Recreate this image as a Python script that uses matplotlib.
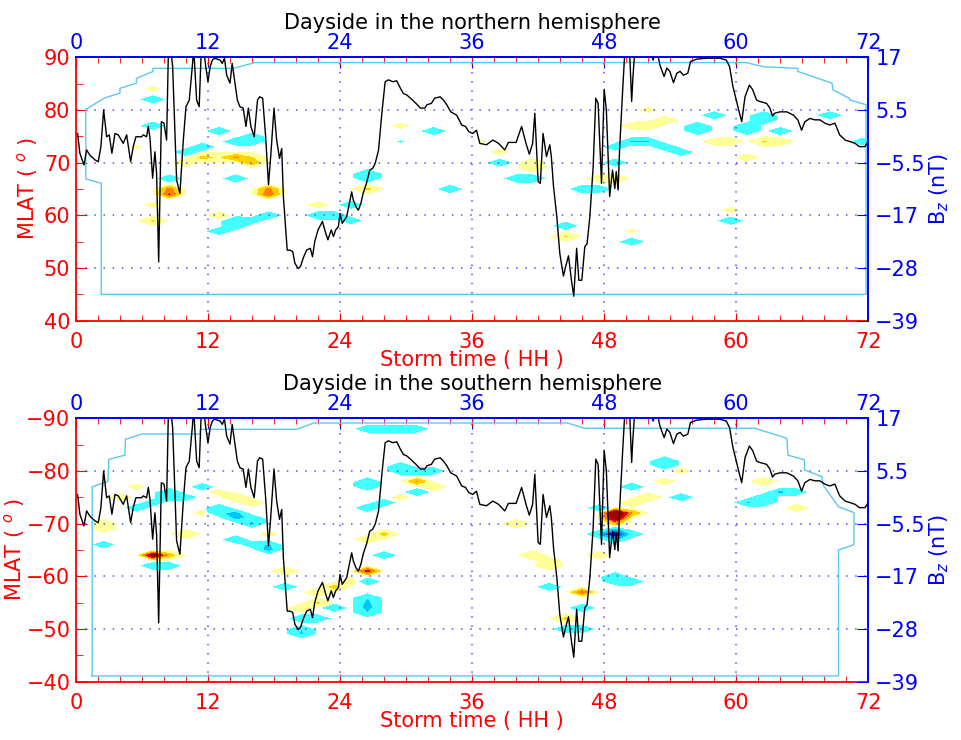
import numpy as np
import matplotlib.pyplot as plt

plt.rcParams['font.family'] = 'DejaVu Sans'
plt.rcParams['font.size'] = 15

RED = '#FF0000'
BLUE = '#0000FF'

# IMF Bz (nT) against storm time (h); values above 17 nT run off the top
bz_time = [0.15, 0.36, 0.73, 0.97, 1.27, 1.73, 2.03, 2.27, 2.52, 2.79,
           3.03, 3.27, 3.55, 3.85, 4.30, 4.61, 4.97, 5.21, 5.45, 5.97,
           6.12, 6.42, 6.58, 6.73, 6.97, 7.18, 7.33, 7.52, 7.76, 8.00,
           8.24, 8.39, 8.61, 8.79, 9.15, 9.45, 9.76, 10.0, 10.3, 10.6,
           10.7, 10.97, 11.2, 11.4, 11.6, 11.8, 12.0, 12.2, 12.4, 12.6,
           13.1, 13.3, 13.5, 13.7, 14.0, 14.2, 14.45, 14.67, 14.9, 15.2,
           15.45, 15.67, 15.9, 16.2, 16.5, 16.7, 16.97, 17.24, 17.5, 17.7,
           18.0, 18.24, 18.5, 18.7, 18.85, 19.2, 19.45, 19.7, 19.9, 20.2,
           20.4, 20.7, 20.97, 21.3, 21.5, 21.7, 22.0, 22.4, 22.7, 22.9,
           23.2, 23.4, 23.6, 23.85, 24.0, 24.2, 24.6, 24.85, 25.06, 25.2,
           25.45, 25.67, 25.9, 26.1, 26.4, 26.7, 26.97, 27.2, 27.5, 27.8,
           28.1, 28.4, 28.8, 29.15, 29.4, 29.75, 30.06, 30.4, 30.9, 31.3,
           31.7, 31.9, 32.3, 32.6, 33.1, 33.4, 33.7, 34.06, 34.6, 35.06,
           35.4, 35.7, 36.06, 36.4, 36.7, 37.3, 37.9, 38.4, 38.97, 39.3,
           40.0, 40.5, 40.9, 41.2, 41.5, 41.7, 42.0, 42.2, 42.45, 42.76,
           43.06, 43.2, 43.4, 43.7, 43.97, 44.3, 44.5, 44.76, 45.03, 45.24,
           45.5, 45.7, 45.97, 46.24, 46.45, 46.7, 47.0, 47.24, 47.45, 47.76,
           48.0, 48.2, 48.5, 48.76, 48.97, 49.1, 49.27, 49.4, 49.7, 49.9,
           50.3, 50.5, 50.6, 50.8, 51.1, 52.15, 52.45, 52.76, 53.06, 53.45,
           53.7, 53.97, 54.3, 54.6, 54.9, 55.2, 55.6, 55.85, 56.4, 57.3,
           57.9, 58.5, 59.1, 59.4, 59.7, 60.0, 60.3, 60.5, 60.8, 61.2,
           61.5, 61.85, 62.15, 62.76, 63.06, 63.3, 63.5, 63.97, 64.6, 65.2,
           65.6, 65.94, 66.24, 66.7, 67.15, 67.6, 68.06, 68.5, 68.97, 69.4,
           69.9, 70.3, 70.8, 71.2, 71.7, 72.0]
bz_nt = [0.8, -3.4, -5.9, -2.7, -3.8, -4.8, -5.2, -2.0, 5.8, 0.1,
         0.5, -3.4, 0.8, 0.5, -1.3, 0.5, -5.2, -2.0, 0.1, 0.1,
         0.5, 0.1, 2.3, -0.2, -8.7, -3.1, -7.7, -26.5, 3.3, 3.0,
         -0.6, 16.8, 19.0, 15.0, -9.1, -11.9, -0.6, 6.5, 7.9, 15.7,
         19.0, 7.9, 6.5, 19.0, 19.0, 15.0, 11.8, 15.0, 16.4, 16.8,
         16.4, 15.7, 16.8, 13.2, 11.5, 15.7, 11.5, 7.9, 6.5, 6.2,
         2.3, 6.2, 2.3, 0.1, 7.9, 8.6, 8.3, 0.1, -10.1, -4.1,
         6.2, -0.6, -4.5, -2.4, -12.6, -24.0, -24.0, -24.3, -26.8, -27.9,
         -27.5, -25.4, -24.0, -23.6, -25.4, -22.2, -19.7, -17.9, -20.4, -21.8,
         -19.7, -21.1, -19.7, -19.0, -16.2, -18.3, -16.9, -14.0, -11.6, -13.3,
         -14.8, -15.5, -14.0, -11.9, -9.8, -7.0, -6.6, -5.5, -2.7, 5.1,
         11.8, 12.2, 11.8, 12.0, 10.8, 9.3, 9.0, 8.3, 7.2, 6.2,
         6.2, 6.9, 7.2, 8.3, 8.6, 7.9, 6.9, 5.4, 4.7, 2.6,
         2.3, 1.2, 0.8, 1.5, -1.3, -1.6, -0.6, -1.3, -2.7, -1.1,
         -1.1, 2.3, -1.3, -3.6, -1.3, 5.1, -9.4, -9.8, 0.8, -4.1,
         -1.6, -4.1, -10.5, -16.9, -24.7, -29.5, -27.5, -25.2, -30.4, -33.8,
         -23.6, -30.4, -30.4, -23.3, -22.6, -16.9, -6.3, 8.3, 7.2, -9.8,
         10.2, 5.8, -12.6, -7.0, -10.9, -7.3, -11.2, -2.7, 10.8, 19.0,
         19.0, 7.6, 12.2, 19.0, 19.0, 19.0, 16.4, 19.0, 15.4, 12.9,
         14.7, 14.0, 11.6, 13.6, 14.0, 13.2, 13.6, 16.1, 16.6, 16.8,
         16.8, 16.8, 16.4, 15.0, 10.8, 7.9, 5.1, 3.3, 8.6, 11.1,
         10.1, 7.9, 7.6, 7.2, 6.2, 4.5, 5.1, 5.4, 5.4, 4.7,
         3.7, 1.5, 3.3, 4.0, 3.7, 3.7, 3.0, 2.6, 3.0, 0.5,
         -0.6, -0.9, -1.3, -2.0, -2.0, -0.9]
bz_ticks = [-39, -27.8, -16.6, -5.4, 5.8, 17]
bz_labels = ['\u221239', '\u221228', '\u221217', '\u22125.5', '5.5', '17']

# data coverage boundary
north_edge_t = [0.9, 0.9, 2.3, 2.3, 71.8, 71.8, 70.3, 70.3, 68.8, 68.7, 65.6, 65.6,
                62.5, 60.9, 16.3, 14.3, 7.0, 7.0, 5.5, 5.5, 4.0, 4.0, 2.5, 2.3, 0.9]
north_edge_lat = [80.1, 66.9, 66.1, 45.0, 45.0, 81.0, 81.9, 82.2, 83.8, 85.1, 87.3, 87.9,
                  88.2, 89.0, 89.0, 87.9, 87.9, 87.3, 86.0, 85.1, 84.1, 83.2, 82.2, 81.9, 80.1]
south_edge_t = [1.48, 1.48, 2.9, 3.0, 4.45, 4.5, 6.0, 11.3, 11.3, 20.1, 21.6, 44.7, 46.2,
                61.7, 64.6, 64.7, 66.2, 66.2, 67.8, 67.9, 69.3, 70.7, 70.7, 69.3, 69.3, 1.48]
south_edge_lat = [-41.1, -77.0, -78.0, -82.2, -83.0, -86.0, -87.0, -87.0, -87.9, -87.9, -89.1,
                  -89.1, -88.1, -88.1, -86.2, -83.0, -82.1, -80.2, -78.9, -77.3, -73.2, -72.1,
                  -66.0, -65.0, -41.1, -41.1]

# gridded perturbation values (storm time h, MLAT deg, value); all other cells are 0
north_cells = [
    (7.0, 84, 0.17), (7.0, 82, -0.9), (7.0, 77, -0.95), (5.5, 73, 0.15),
    (10.0, 72, -0.8), (11.5, 73, -0.8), (13.0, 76, -0.9),
    (14.5, 74, -0.9), (16.0, 74, -0.9), (16.0, 75, -0.6),
    (10.0, 70, 0.4), (11.5, 71, 1.3), (13.0, 71, 0.8), (14.5, 71, 2.2), (16.0, 70, 1.8), (16.0, 71, 1.0),
    (14.5, 67, -0.9), (8.5, 67, -0.8), (8.5, 64, 3.1), (8.5, 65, 2.4),
    (7.0, 62, 0.2), (7.0, 59, 1.1),
    (13.0, 57, -0.9), (14.5, 59, -1.1), (14.5, 58, -0.8), (16.0, 59, -0.5), (13.0, 60, 0.3),
    (17.5, 60, -0.9), (17.5, 64, 2.9), (17.5, 65, 2.3),
    (22.0, 62, 0.25), (22.0, 60, -0.9), (23.5, 60, -0.9), (25.0, 59, -0.5), (25.0, 62, -0.8),
    (26.5, 65, 1.2), (26.5, 67, -1.0), (26.5, 68, -0.9),
    (29.5, 77, 0.2), (29.5, 74, -0.15), (32.5, 76, -0.95), (34.0, 65, -0.9),
    (52.0, 80, 0.2), (52.0, 77, 0.6), (53.5, 78, 0.5), (50.5, 77, 0.3),
    (50.5, 74, -1.3), (52.0, 74, -1.2), (53.5, 73, -1.0), (55.0, 72, -0.7), (49.0, 73, -0.6),
    (56.5, 76, -0.9), (56.5, 77, -0.9), (58.0, 79, -0.9),
    (61.0, 76, -0.9), (61.0, 77, -0.9), (62.5, 78, -0.9), (62.5, 79, -0.9),
    (59.5, 74, 0.4), (58.0, 74, 0.3), (61.0, 71, 0.3), (64.0, 76, -0.9),
    (62.5, 74, 1.1), (64.0, 74, 0.5), (68.5, 79, -0.9), (71.5, 74, -0.7),
    (59.5, 61, 0.2), (59.5, 59, -1.05), (50.5, 55, -0.9), (50.5, 57, 0.15),
    (44.5, 58, -0.9), (44.5, 56, 1.1),
    (46.0, 65, -0.9), (47.5, 65, -0.9), (49.0, 67, 0.7), (47.5, 67, 0.3), (49.0, 70, -0.8),
    (38.5, 70, -0.8), (41.5, 69, 0.6), (41.5, 70, 0.4), (40.0, 67, -0.8), (41.5, 67, -1.1),
    (38.5, 72, 0.2), (37.0, 74, 0.12),
]
south_cells = [
    (26.5, -88, -0.9), (28.0, -88, -0.9), (29.5, -88, -0.9), (31.0, -88, -0.6),
    (29.5, -80, -0.9), (31.0, -80, -0.9), (32.5, -80, -0.6), (29.5, -81, -0.5),
    (31.0, -78, 2.1), (32.5, -77, 0.5), (31.0, -76, -0.8), (29.5, -75, 0.2),
    (26.5, -77, -0.9), (26.5, -78, -0.9), (26.5, -73, -0.9), (28.0, -74, -0.6),
    (28.0, -68, 1.3), (26.5, -67, 0.4), (28.0, -64, -0.9), (26.5, -61, 3.5), (26.5, -59, -1.2),
    (26.5, -56, -1.0), (26.5, -55, -1.3), (26.5, -54, -1.5), (26.5, -53, -1.0),
    (23.5, -58, 1.4), (25.0, -59, 0.6), (22.0, -57, 0.5), (23.5, -54, -1.1),
    (20.5, -54, 0.5), (22.0, -55, 1.1), (20.5, -52, -0.9), (22.0, -52, -0.9),
    (20.5, -49, -1.2), (20.5, -50, -1.0), (19.0, -58, -0.9), (19.0, -61, 0.5),
    (17.5, -65, -1.5), (17.5, -66, -1.2), (16.0, -66, -0.4), (14.5, -67, -0.9), (17.5, -68, 0.2),
    (13.0, -73, -0.9), (14.5, -72, -1.5), (14.5, -71, -1.3), (16.0, -70, -1.3), (16.0, -71, -0.8),
    (13.0, -72, -0.8), (14.5, -75, 0.5), (16.0, -74, 0.4), (13.0, -76, 0.2), (11.5, -72, 0.2),
    (11.5, -77, -0.6), (10.0, -68, 0.7),
    (8.5, -76, -0.9), (8.5, -75, -0.9), (10.0, -75, -0.5), (7.0, -74, -0.5),
    (5.5, -77, 0.2), (5.5, -73, -0.6), (4.0, -75, 0.3),
    (2.5, -70, 0.4), (2.5, -69, 0.3), (2.5, -66, -0.5),
    (7.0, -64, 5.0), (8.5, -64, 1.5), (7.0, -62, -0.9), (8.5, -62, -0.6),
    (53.5, -82, -0.9), (53.5, -81, -0.9), (55.0, -80, 0.2), (53.5, -78, 0.25),
    (50.5, -77, -0.9), (52.0, -75, 0.6), (50.5, -74, 0.5), (55.0, -75, -0.9), (47.5, -73, -0.5),
    (49.0, -72, 6.0), (49.0, -71, 5.0), (50.5, -72, 2.0), (49.0, -70, 1.5),
    (49.0, -69, -1.5), (49.0, -68, -5.0), (47.5, -68, -1.2), (49.0, -67, -1.5), (50.5, -68, -0.8),
    (40.0, -70, 0.5), (47.5, -64, 0.3), (41.5, -64, 0.6), (43.0, -62, 0.5), (43.0, -63, 0.3),
    (43.0, -58, -0.9), (49.0, -60, -0.9), (50.5, -59, -0.9), (49.0, -59, -0.6),
    (46.0, -57, 2.7), (46.0, -54, -1.3), (44.5, -52, 1.2), (44.5, -50, -0.9), (46.0, -50, -0.9),
    (61.0, -74, -1.2), (62.5, -75, -1.0), (64.0, -76, -1.5), (62.5, -74, -0.8), (65.5, -76, -0.5),
    (62.5, -78, 0.4), (65.5, -73, 0.3),
]

t_grid = np.arange(-0.5, 73.1, 1.5)
north_lat_grid = np.arange(40, 91)
south_lat_grid = np.arange(-90, -39)

levels = [-100, -4, -3, -2, -1, -0.1, 0.1, 1, 2, 3, 4, 100]
colors = ['#000080', '#0000FF', '#0080FF', '#00C8FF', '#44FFFF', 'white',
          '#FFFF99', '#FFD000', '#FF8000', '#E00000', '#A00000']


def make_field(lat_grid, cells):
    z = np.zeros((len(lat_grid), len(t_grid)))
    for t, la, v in cells:
        i = np.argmin(np.abs(lat_grid - la))
        j = np.argmin(np.abs(t_grid - t))
        z[i, j] = v
    return z


def panel(rect, lat_grid, cells, edge_t, edge_lat, ylim, yticks, title, lab_x):
    ax = fig.add_axes(rect)
    ax.contourf(t_grid, lat_grid, make_field(lat_grid, cells), levels=levels, colors=colors, zorder=0)
    ax.plot(edge_t, edge_lat, color='#5BC8F0', lw=1, zorder=2)
    ax.set_xlim(0, 72)
    ax.set_ylim(*ylim)
    ax.set_xticks(range(0, 73, 12))
    ax.set_xticks(range(0, 73, 2), minor=True)
    ax.set_yticks(yticks)
    ax.set_yticks(np.arange(min(ylim), max(ylim) + 1, 5), minor=True)
    ax.grid(True, which='major', color='#5050FF', linestyle=(0, (1, 5)), lw=1.1)
    ax.tick_params(which='both', direction='in', colors=RED, top=True, right=True,
                   labeltop=False, labelright=False)
    ax.tick_params(axis='x', which='major', length=6, pad=8)
    ax.tick_params(axis='x', which='minor', length=4)
    ax.tick_params(axis='y', which='major', length=8, pad=4)
    ax.tick_params(axis='y', which='minor', length=5)
    for s in ['left', 'bottom']:
        ax.spines[s].set_color(RED)
    for s in ['top', 'right']:
        ax.spines[s].set_color(BLUE)
    for s in ax.spines.values():
        s.set_linewidth(1.3)
    ax.set_xlabel('Storm time ( HH )', color=RED)
    ax.xaxis.set_label_coords(0.5, -0.112)
    ax.set_ylabel('MLAT ( $^{o}$ )', color=RED)
    ax.yaxis.set_label_coords(lab_x, 0.5)
    ax.text(0.5, 1.109, title, transform=ax.transAxes, ha='center', va='baseline', color='black')

    top = ax.secondary_xaxis('top')
    top.set_xticks(range(0, 73, 12))
    top.tick_params(direction='in', colors=BLUE, length=8, pad=3)
    top.spines['top'].set_color(BLUE)
    top.spines['top'].set_linewidth(1.3)

    tw = ax.twinx()
    tw.plot(bz_time, bz_nt, color='black', lw=1)
    tw.set_ylim(-39, 17)
    tw.set_yticks(bz_ticks, bz_labels)
    tw.tick_params(axis='y', direction='in', colors=BLUE, length=8, pad=5)
    tw.spines['left'].set_visible(False)
    tw.spines['bottom'].set_visible(False)
    tw.spines['right'].set_color(BLUE)
    tw.spines['top'].set_color(BLUE)
    tw.spines['right'].set_linewidth(1.3)
    tw.spines['top'].set_linewidth(1.3)
    tw.set_ylabel('B$_z$ (nT)', color=BLUE)
    tw.yaxis.set_label_coords(1.075, 0.5)
    return ax


fig = plt.figure(figsize=(9.61, 7.40), dpi=100)
panel([0.079, 0.5666, 0.8245, 0.356], north_lat_grid, north_cells, north_edge_t, north_edge_lat,
      (40, 90), range(40, 91, 10), 'Dayside in the northern hemisphere', -0.045)
panel([0.079, 0.0788, 0.8245, 0.356], south_lat_grid, south_cells, south_edge_t, south_edge_lat,
      (-40, -90), range(-90, -39, 10), 'Dayside in the southern hemisphere', -0.062)
fig.savefig('out.png', dpi=100)
